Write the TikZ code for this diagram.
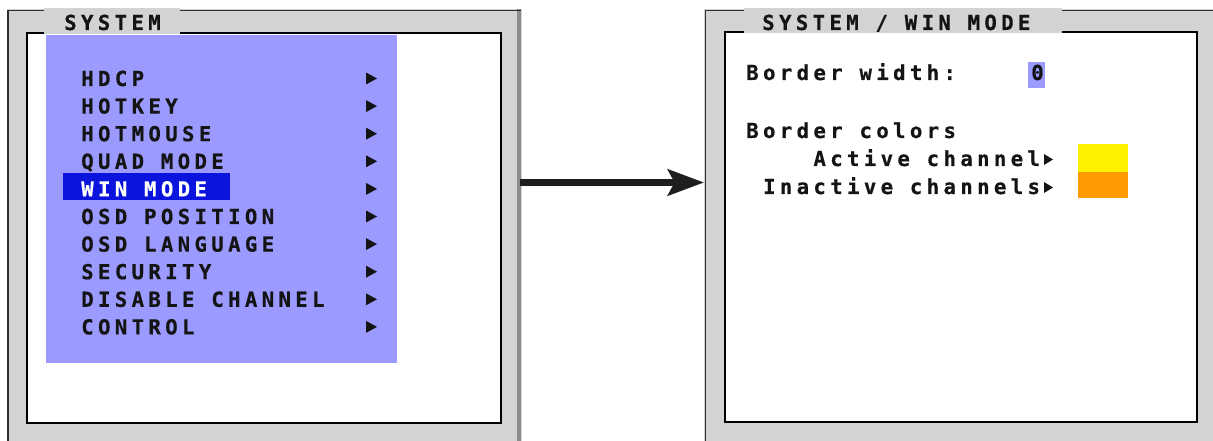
\documentclass[tikz,border=0pt]{standalone}
\usepackage{fontspec}
\usetikzlibrary{arrows.meta}
% On-screen display font: heavy monospace with wide tracking
\newfontfamily\osdfont{DejaVu Sans Mono Bold}[LetterSpace=21.1,FakeBold=0.5]
\definecolor{framegrey}{HTML}{D3D3D3}
\definecolor{edgegrey}{HTML}{8C8C8C}
\definecolor{linedark}{HTML}{2E2E2E}
\definecolor{menublue}{HTML}{9A9AFF}
\definecolor{selblue}{HTML}{0A14DC}
\definecolor{osdyellow}{HTML}{FFF200}
\definecolor{osdorange}{HTML}{FF9A00}
\definecolor{arrowblack}{HTML}{1E1E1E}
\definecolor{osdtext}{HTML}{141414}
\begin{document}
\begin{tikzpicture}[x=0.75pt,y=-0.75pt,
  osd/.style={anchor=base west,inner sep=0pt,text=osdtext,
    font=\osdfont\fontsize{15.5}{17}\selectfont},
  panel/.style={fill=framegrey},
  outerline/.style={draw=linedark,line width=1.4pt},
  screen/.style={draw=black,line width=1.5pt,fill=white},
  pointer/.style={fill=osdtext},
  flow/.style={draw=arrowblack,line width=5.25pt,
    -{Stealth[length=27pt,width=19.5pt,inset=5pt]}}]
\useasboundingbox (0,0) rectangle (1213,441);

% ---------- left window: SYSTEM menu ----------
\fill[panel] (7,9) rectangle (522,441);
\fill[edgegrey] (517,9) rectangle (521,441);
\draw[outerline] (7,10.5) -- (521,10.5);
\draw[outerline] (8,10) -- (8,441);
\draw[screen] (27,33) rectangle (501,423);
\fill[menublue] (46,35) rectangle (397,363);
\fill[panel] (44,8) rectangle (180,34);
\node[osd] (sysTitle) at (64,30) {SYSTEM};

\fill[selblue] (63,173) rectangle (230,200);
\foreach \txt/\base [count=\i] in {HDCP/86, HOTKEY/113.6, HOTMOUSE/141.2,
    QUAD MODE/168.8, WIN MODE/196.4, OSD POSITION/224, OSD LANGUAGE/251.6,
    SECURITY/279.2, DISABLE CHANNEL/306.8, CONTROL/334.4}{
  \ifnum\i=5
    \node[osd,text=white] (item\i) at (81,\base) {\txt};
  \else
    \node[osd] (item\i) at (81,\base) {\txt};
  \fi
  \fill[pointer] (366,\base-13.5) -- (377,\base-7.5) -- (366,\base-1.5) -- cycle;
}

% ---------- right window: SYSTEM / WIN MODE ----------
\fill[panel] (704,9) rectangle (1213,441);
\draw[outerline] (705,10.5) -- (1213,10.5);
\draw[outerline] (705.5,10) -- (705.5,441);
\draw[screen] (725,32) rectangle (1197,422);
\fill[panel] (744,8) rectangle (1062,33.2);
\node[osd] (winTitle) at (762,30) {SYSTEM / WIN MODE};

\node[osd] (bwLabel) at (746,80) {Border width:};
\fill[menublue] (1028,62) rectangle (1045,88);
\node[osd] (bwValue) at (1031,80) {0};

\node[osd] (bcLabel) at (746,138) {Border colors};
\node[osd] (active) at (813.2,166) {Active channel};
\node[osd] (inactive) at (762.8,194) {Inactive channels};
\fill[pointer] (1044,166-12) -- (1053,166-6.5) -- (1044,166-1) -- cycle;
\fill[pointer] (1044,194-12) -- (1053,194-6.5) -- (1044,194-1) -- cycle;
\fill[osdyellow] (1078,144) rectangle (1128,172);
\fill[osdorange] (1078,172) rectangle (1128,198);

% ---------- transition arrow ----------
\coordinate (fromMenu) at (520,182.5);
\coordinate (toPage) at (704,182.5);
\draw[flow] (fromMenu) -- (toPage);
\end{tikzpicture}
\end{document}
